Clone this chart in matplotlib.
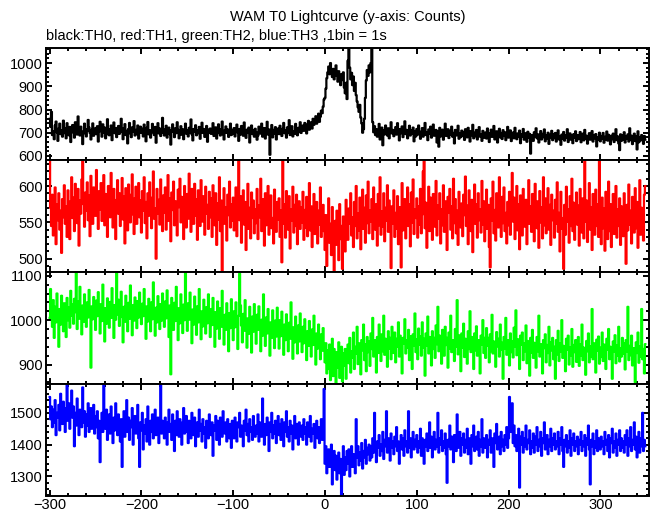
import numpy as np
import matplotlib
matplotlib.use("Agg")
import matplotlib.pyplot as plt
from matplotlib.ticker import MultipleLocator

plt.rcParams['font.family'] = ['Liberation Sans', 'DejaVu Sans']

t_start = -300  # 1 bin = 1 s

th0 = [
760, 725, 790, 690, 705, 672, 731, 748, 702, 665, 718, 739, 694, 710, 683, 752, 721, 698, 676, 741, 712, 689, 725, 660, 706,
733, 701, 679, 745, 718, 692, 770, 714, 688, 726, 705, 651, 697, 739, 716, 684, 708, 755, 722, 699, 671, 713, 740, 687, 703,
719, 694, 728, 662, 705, 747, 711, 683, 736, 700, 722, 676, 693, 758, 716, 689, 702, 731, 668, 710, 744, 698, 720, 681, 707,
729, 695, 714, 760, 703, 672, 719, 737, 690, 708, 654, 716, 742, 697, 681, 723, 706, 750, 688, 712, 694, 731, 675, 709, 726,
699, 717, 684, 735, 708, 663, 721, 746, 693, 711, 679, 704, 738, 701, 690, 725, 657, 713, 741, 697, 718, 686, 709, 764, 700,
688, 714, 730, 679, 705, 722, 694, 649, 711, 736, 703, 681, 719, 698, 745, 712, 676, 707, 728, 691, 715, 672, 702, 739, 696,
710, 684, 721, 702, 757, 693, 667, 716, 705, 732, 689, 711, 698, 725, 674, 708, 743, 699, 716, 682, 705, 729, 661, 713, 700,
718, 695, 707, 741, 686, 709, 723, 675, 698, 736, 704, 688, 715, 748, 693, 671, 710, 727, 699, 714, 682, 703, 739, 690, 712,
697, 720, 684, 708, 735, 701, 665, 716, 692, 729, 710, 687, 744, 705, 678, 713, 699, 722, 658, 706, 731, 694, 711, 683, 717,
702, 670, 688, 726, 711, 696, 739, 683, 708, 720, 675, 701, 747, 692, 714, 605, 706, 733, 680, 712, 697, 724, 671, 709, 718,
694, 730, 705, 686, 717, 742, 698, 711, 679, 723, 700, 754, 690, 713, 728, 684, 707, 695, 738, 712, 689, 721, 703, 745, 699,
716, 731, 708, 742, 722, 697, 736, 751, 713, 729, 745, 718, 760, 734, 748, 771, 739, 756, 782, 747, 769, 795, 784, 812, 843,
850, 890, 935, 960, 985, 952, 1000, 968, 940, 975, 930, 958, 990, 945, 920, 965, 938, 905, 952, 927, 960, 895, 870, 915, 845,
1010, 1065, 980, 930, 958, 905, 942, 880, 915, 862, 835, 810, 790, 820, 765, 740, 700, 715, 760, 850, 925, 970, 945, 990, 960,
1000, 1065, 745, 702, 728, 690, 715, 683, 707, 738, 671, 699, 722, 646, 710, 693, 731, 704, 688, 719, 676, 701, 745, 697, 712,
685, 708, 724, 692, 741, 703, 667, 716, 698, 727, 681, 705, 749, 694, 712, 676, 703, 730, 688, 710, 695, 722, 663, 707, 684,
716, 692, 731, 705, 674, 698, 720, 683, 709, 742, 690, 701, 668, 714, 695, 726, 679, 703, 735, 687, 699, 712, 658, 705, 640,
721, 684, 697, 713, 670, 702, 739, 686, 694, 715, 677, 708, 691, 726, 683, 699, 654, 712, 688, 705, 730, 674, 696, 681, 709,
687, 703, 669, 715, 694, 680, 721, 698, 662, 707, 689, 734, 676, 700, 685, 712, 671, 697, 724, 683, 692, 665, 708, 690, 678,
701, 675, 718, 688, 660, 697, 713, 682, 694, 729, 671, 689, 706, 658, 693, 717, 680, 699, 673, 711, 686, 702, 668, 694, 725,
679, 693, 710, 664, 688, 701, 676, 721, 690, 672, 697, 683, 709, 655, 692, 684, 716, 670, 698, 687, 661, 704, 679, 695, 610,
673, 690, 665, 702, 684, 719, 676, 693, 658, 688, 707, 671, 695, 681, 714, 663, 689, 676, 700, 652, 691, 680, 708, 668, 694,
677, 699, 662, 686, 710, 671, 683, 648, 692, 675, 703, 666, 689, 678, 715, 660, 684, 697, 670, 688, 655, 694, 679, 706, 664,
690, 672, 685, 703, 659, 681, 696, 667, 712, 674, 687, 653, 679, 698, 670, 684, 707, 662, 688, 676, 694, 641, 681, 669, 700,
663, 686, 674, 699, 657, 682, 670, 705, 666, 691, 678, 650, 687, 672, 696, 660, 680, 715, 668, 684, 654, 625, 693, 665, 688,
671, 702, 658, 684, 676, 693, 662, 719, 670, 687, 651, 678, 696, 664, 683, 628, 706, 659, 680, 667, 690, 675, 652, 686, 670,
]

th1 = [
636, 570, 545, 588, 532, 561, 598, 520, 575, 553, 590, 540, 566, 508, 582, 557, 601, 548, 572, 530, 594, 563, 527, 579, 612,
556, 584, 538, 603, 571, 549, 596, 518, 580, 562, 609, 636, 575, 544, 591, 566, 605, 553, 587, 531, 614, 570, 548, 598, 579,
559, 622, 584, 541, 593, 568, 604, 552, 577, 615, 546, 589, 563, 530, 600, 574, 557, 618, 585, 543, 596, 569, 527, 581, 608,
562, 590, 545, 573, 611, 554, 586, 521, 597, 567, 539, 602, 576, 550, 588, 616, 561, 534, 583, 599, 548, 571, 604, 557, 580,
536, 593, 566, 612, 549, 578, 528, 590, 559, 605, 573, 542, 584, 620, 555, 569, 500, 596, 562, 581, 547, 609, 575, 538, 587,
563, 598, 540, 574, 615, 552, 583, 524, 591, 567, 606, 546, 579, 558, 532, 595, 571, 610, 550, 585, 561, 527, 600, 576, 543,
589, 555, 617, 568, 537, 596, 572, 548, 603, 559, 582, 526, 594, 565, 545, 608, 578, 551, 586, 533, 599, 562, 574, 541, 592,
557, 583, 530, 601, 569, 546, 590, 519, 576, 554, 612, 538, 580, 483, 563, 597, 548, 571, 525, 588, 560, 606, 543, 575, 552,
584, 539, 567, 598, 531, 574, 636, 553, 586, 522, 565, 594, 547, 578, 512, 559, 603, 541, 570, 528, 591, 556, 580, 535, 568,
549, 596, 527, 573, 557, 610, 538, 582, 561, 518, 590, 546, 571, 600, 533, 564, 587, 542, 556, 521, 595, 569, 537, 578, 554,
583, 530, 566, 495, 636, 548, 575, 529, 593, 557, 540, 586, 514, 568, 552, 599, 536, 574, 545, 588, 520, 563, 579, 541, 571,
550, 592, 526, 567, 543, 585, 531, 558, 604, 539, 572, 516, 561, 589, 534, 553, 578, 521, 566, 547, 598, 530, 556, 574, 538,
512, 560, 490, 537, 583, 522, 548, 505, 571, 530, 483, 552, 519, 566, 540, 498, 575, 527, 545, 486, 558, 534, 510, 581, 543,
526, 569, 548, 590, 532, 557, 516, 578, 545, 600, 528, 562, 539, 584, 513, 553, 595, 541, 570, 522, 587, 549, 606, 535, 566,
551, 582, 527, 598, 560, 540, 575, 518, 589, 546, 612, 533, 565, 544, 590, 524, 570, 552, 601, 537, 580, 558, 487, 572, 548,
594, 530, 563, 541, 586, 520, 571, 553, 488, 604, 539, 567, 582, 528, 559, 598, 545, 575, 517, 591, 550, 609, 534, 568, 556,
583, 529, 572, 547, 596, 535, 561, 620, 636, 542, 577, 515, 565, 599, 538, 584, 552, 526, 589, 561, 544, 607, 532, 573, 555,
590, 521, 568, 546, 601, 537, 579, 554, 512, 585, 563, 596, 540, 572, 528, 610, 549, 582, 535, 566, 519, 592, 557, 543, 576,
531, 588, 560, 613, 545, 573, 520, 594, 556, 538, 581, 509, 567, 602, 548, 575, 529, 590, 553, 568, 536, 607, 547, 579, 524,
562, 595, 541, 574, 516, 488, 583, 552, 606, 535, 567, 525, 590, 558, 543, 612, 570, 530, 585, 549, 598, 538, 563, 521, 578,
546, 592, 533, 569, 618, 551, 584, 527, 561, 600, 539, 575, 513, 587, 555, 532, 596, 566, 544, 581, 520, 563, 608, 548, 572,
537, 589, 556, 524, 603, 565, 542, 579, 515, 593, 550, 571, 528, 612, 546, 583, 535, 560, 597, 540, 574, 519, 588, 553, 566,
529, 581, 548, 605, 537, 563, 510, 592, 556, 541, 486, 574, 533, 599, 551, 568, 522, 586, 545, 610, 538, 577, 526, 562, 591,
547, 573, 518, 596, 559, 536, 583, 528, 636, 551, 580, 523, 567, 604, 540, 571, 512, 589, 554, 533, 595, 545, 575, 530, 636,
557, 520, 584, 542, 569, 511, 592, 550, 527, 606, 538, 575, 516, 561, 589, 534, 553, 600, 529, 568, 545, 583, 519, 572, 548,
531, 590, 556, 493, 574, 539, 602, 547, 566, 521, 585, 553, 536, 597, 542, 578, 515, 561, 608, 533, 570, 549, 525, 588, 600,
]

th2 = [
1005, 1070, 1020, 985, 1045, 960, 1030, 995, 1060, 1012, 940, 1025, 990, 1055, 1008, 975, 1038, 1015, 962, 1050, 1000, 1028, 983, 1066, 1010,
1035, 992, 1048, 1018, 1109, 980, 1042, 1003, 1075, 1022, 968, 1033, 996, 1058, 1014, 985, 1040, 1006, 1068, 1024, 893, 1031, 1002, 1052, 1017,
978, 1044, 1009, 1063, 1021, 970, 1036, 998, 1080, 1015, 952, 1027, 992, 1049, 1011, 983, 1041, 1005, 1072, 1019, 960, 1034, 1001, 1109, 1013,
1046, 987, 1023, 1064, 1007, 950, 1030, 996, 1055, 1016, 975, 1039, 1003, 1078, 1020, 966, 1034, 999, 1051, 1011, 982, 1043, 1006, 1062, 1018,
991, 1037, 1009, 1070, 1021, 958, 1031, 997, 1048, 1014, 975, 1040, 1002, 1085, 1017, 965, 1028, 995, 1054, 1008, 980, 1036, 999, 1060, 1013,
985, 1042, 1004, 1067, 1019, 962, 1033, 878, 1050, 1010, 978, 1039, 998, 1075, 1016, 955, 1027, 993, 1058, 1007, 971, 1035, 1000, 1109, 1012,
976, 1038, 1001, 1062, 1014, 948, 1024, 990, 1053, 1005, 967, 1031, 995, 1070, 1011, 957, 1020, 986, 1046, 1002, 970, 1029, 993, 1058, 1006,
962, 1025, 989, 1050, 1003, 940, 1018, 981, 1042, 997, 958, 1027, 985, 1066, 1000, 945, 1012, 978, 1038, 994, 930, 1016, 982, 1047, 996,
955, 1020, 984, 1040, 991, 935, 1010, 1105, 1033, 988, 950, 1014, 976, 1045, 992, 938, 1004, 969, 1030, 985, 927, 1008, 974, 1036, 983,
947, 1012, 978, 1031, 986, 930, 1001, 965, 1058, 980, 942, 1006, 970, 1025, 977, 920, 995, 960, 1022, 974, 937, 999, 963, 1028, 971,
936, 1000, 964, 1019, 972, 922, 990, 955, 1013, 968, 930, 994, 958, 1040, 966, 913, 984, 950, 1008, 962, 925, 988, 952, 1015, 960,
928, 985, 948, 1002, 958, 910, 975, 942, 998, 953, 918, 979, 944, 1010, 950, 900, 970, 936, 990, 947, 912, 968, 931, 982, 940,
905, 948, 880, 932, 890, 945, 865, 920, 958, 874, 935, 900, 857, 928, 893, 950, 870, 915, 940, 862, 925, 898, 935, 868, 912,
945, 903, 960, 882, 930, 915, 972, 890, 940, 925, 985, 901, 948, 920, 878, 955, 932, 990, 910, 946, 885, 962, 928, 952, 897,
970, 935, 1005, 918, 955, 940, 882, 962, 926, 990, 945, 908, 968, 930, 1010, 922, 958, 941, 895, 975, 936, 960, 912, 985, 944,
926, 972, 905, 958, 940, 995, 918, 965, 933, 880, 960, 947, 1002, 925, 955, 938, 978, 910, 964, 930, 890, 968, 943, 1015, 928,
957, 912, 981, 945, 964, 920, 995, 938, 958, 875, 970, 942, 1008, 925, 962, 948, 898, 975, 935, 960, 915, 988, 946, 1030, 930,
965, 940, 902, 978, 952, 920, 985, 944, 960, 893, 972, 936, 1010, 928, 955, 946, 908, 980, 940, 1045, 923, 966, 950, 885, 970,
938, 992, 917, 958, 944, 902, 975, 935, 1020, 928, 962, 948, 890, 970, 932, 986, 920, 955, 940, 880, 965, 945, 1000, 926, 960,
915, 982, 942, 960, 905, 968, 930, 1012, 925, 952, 938, 895, 973, 941, 958, 918, 990, 933, 949, 868, 962, 936, 1005, 922, 955,
944, 898, 970, 928, 952, 916, 983, 940, 1022, 921, 957, 935, 890, 965, 945, 972, 910, 948, 930, 988, 903, 953, 939, 875, 960,
927, 978, 915, 949, 935, 893, 962, 930, 1010, 918, 946, 922, 880, 955, 937, 968, 905, 944, 926, 985, 898, 950, 932, 960, 912,
940, 868, 955, 923, 976, 908, 947, 929, 1000, 915, 942, 918, 885, 958, 933, 965, 900, 939, 921, 980, 895, 944, 928, 955, 906,
934, 962, 897, 945, 920, 990, 910, 938, 927, 877, 953, 930, 970, 905, 941, 918, 1025, 912, 948, 925, 882, 956, 931, 963, 902,
938, 917, 972, 908, 945, 926, 890, 958, 933, 980, 912, 940, 922, 868, 952, 929, 966, 903, 943, 920, 985, 907, 937, 918, 960,
924, 948, 889, 955, 930, 1030, 910, 942, 921, 965, 898, 937, 915, 860, 950, 926, 972, 904, 941, 918, 1025, 912, 935, 880, 946,
]

th3 = [
1550, 1480, 1520, 1455, 1510, 1470, 1540, 1430, 1500, 1485, 1525, 1445, 1560, 1490, 1465, 1535, 1500, 1440, 1515, 1590, 1475, 1530, 1450, 1505, 1570,
1485, 1520, 1395, 1500, 1460, 1545, 1475, 1430, 1510, 1490, 1455, 1580, 1470, 1505, 1425, 1495, 1460, 1530, 1440, 1485, 1515, 1450, 1470, 1525, 1435,
1490, 1455, 1505, 1420, 1475, 1345, 1465, 1500, 1440, 1590, 1480, 1450, 1510, 1415, 1470, 1495, 1435, 1520, 1460, 1405, 1485, 1445, 1530, 1465, 1430,
1495, 1450, 1410, 1480, 1330, 1460, 1505, 1425, 1470, 1540, 1440, 1485, 1415, 1475, 1455, 1515, 1400, 1465, 1490, 1435, 1460, 1525, 1420, 1330, 1470,
1445, 1500, 1385, 1460, 1435, 1480, 1410, 1520, 1455, 1400, 1475, 1440, 1495, 1420, 1465, 1510, 1430, 1450, 1485, 1405, 1460, 1590, 1435, 1475, 1450,
1420, 1485, 1455, 1400, 1470, 1510, 1440, 1465, 1415, 1495, 1450, 1380, 1475, 1430, 1505, 1455, 1425, 1480, 1445, 1400, 1470, 1515, 1435, 1460, 1490,
1440, 1405, 1475, 1450, 1420, 1500, 1460, 1430, 1485, 1395, 1455, 1470, 1425, 1510, 1445, 1465, 1410, 1480, 1435, 1455, 1390, 1475, 1450, 1420, 1495,
1455, 1430, 1470, 1365, 1460, 1445, 1490, 1415, 1475, 1440, 1400, 1485, 1450, 1425, 1505, 1460, 1435, 1470, 1410, 1480, 1445, 1420, 1465, 1390, 1475,
1450, 1420, 1485, 1440, 1410, 1470, 1455, 1500, 1425, 1460, 1435, 1395, 1475, 1445, 1510, 1430, 1465, 1410, 1480, 1440, 1455, 1415, 1490, 1450, 1425,
1460, 1435, 1495, 1410, 1470, 1450, 1425, 1545, 1445, 1400, 1465, 1430, 1485, 1455, 1380, 1470, 1440, 1500, 1420, 1460, 1435, 1475, 1405, 1455, 1490,
1430, 1465, 1415, 1480, 1445, 1395, 1470, 1440, 1505, 1425, 1455, 1410, 1475, 1435, 1460, 1385, 1450, 1490, 1420, 1465, 1440, 1400, 1470, 1445, 1425,
1460, 1415, 1480, 1435, 1455, 1400, 1470, 1440, 1425, 1490, 1410, 1450, 1435, 1465, 1390, 1445, 1475, 1420, 1455, 1405, 1440, 1480, 1415, 1450, 1575,
1340, 1395, 1310, 1370, 1385, 1330, 1360, 1400, 1275, 1350, 1380, 1320, 1365, 1290, 1345, 1375, 1310, 1355, 1240, 1335, 1395, 1305, 1360, 1320, 1380,
1340, 1385, 1300, 1355, 1395, 1330, 1370, 1345, 1310, 1480, 1360, 1395, 1335, 1375, 1350, 1405, 1325, 1380, 1360, 1415, 1340, 1390, 1370, 1400, 1350,
1395, 1360, 1420, 1375, 1500, 1385, 1345, 1410, 1390, 1430, 1365, 1400, 1380, 1440, 1355, 1415, 1395, 1505, 1375, 1420, 1400, 1350, 1435, 1390, 1410,
1370, 1425, 1395, 1455, 1380, 1410, 1340, 1400, 1430, 1385, 1420, 1365, 1445, 1395, 1410, 1375, 1505, 1390, 1420, 1360, 1405, 1440, 1385, 1415, 1395,
1430, 1375, 1410, 1390, 1450, 1365, 1420, 1400, 1340, 1415, 1395, 1435, 1380, 1410, 1470, 1390, 1425, 1360, 1405, 1440, 1385, 1415, 1395, 1500, 1375,
1420, 1400, 1445, 1380, 1410, 1390, 1435, 1370, 1280, 1415, 1395, 1460, 1385, 1425, 1400, 1345, 1430, 1405, 1380, 1495, 1410, 1390, 1440, 1365, 1420,
1400, 1435, 1375, 1415, 1390, 1450, 1370, 1420, 1405, 1340, 1430, 1395, 1460, 1380, 1410, 1425, 1385, 1440, 1365, 1415, 1395, 1480, 1375, 1420, 1400,
1390, 1430, 1360, 1415, 1400, 1445, 1375, 1420, 1395, 1330, 1435, 1405, 1465, 1385, 1410, 1425, 1370, 1440, 1395, 1415, 1380, 1430, 1400, 1455, 1390,
1420, 1550, 1480, 1440, 1530, 1405, 1460, 1395, 1430, 1380, 1415, 1450, 1265, 1425, 1400, 1440, 1375, 1420, 1395, 1460, 1385, 1415, 1405, 1445, 1370,
1410, 1390, 1435, 1375, 1425, 1400, 1455, 1380, 1415, 1395, 1440, 1365, 1420, 1405, 1470, 1385, 1410, 1430, 1370, 1415, 1395, 1450, 1380, 1420, 1400,
1435, 1385, 1410, 1395, 1440, 1370, 1420, 1400, 1455, 1380, 1330, 1415, 1395, 1430, 1375, 1410, 1390, 1445, 1365, 1420, 1400, 1435, 1380, 1410, 1395,
1425, 1370, 1415, 1400, 1440, 1380, 1410, 1395, 1430, 1365, 1420, 1400, 1460, 1385, 1275, 1415, 1395, 1435, 1370, 1410, 1390, 1445, 1380, 1420, 1400,
1385, 1425, 1395, 1410, 1370, 1440, 1400, 1415, 1380, 1430, 1360, 1420, 1405, 1450, 1375, 1410, 1390, 1435, 1365, 1415, 1400, 1445, 1380, 1420, 1390,
1410, 1375, 1430, 1400, 1445, 1365, 1420, 1395, 1455, 1380, 1415, 1400, 1470, 1385, 1425, 1360, 1410, 1440, 1375, 1420, 1395, 1500, 1380, 1415, 1395,
]

series = [th0, th1, th2, th3]
colors = ['black', '#ff0000', '#00ff00', '#0000ff']
ylims = [(583, 1065), (482, 636), (857, 1109), (1240, 1592)]
ymajor = [100, 50, 100, 100]
yminor = [20, 10, 20, 20]
xlim = (-304.5, 353)

W, H = 652, 515
fig = plt.figure(figsize=(W / 100, H / 100), dpi=100)
left_px, right_px = 45.5, 649
top_px, bot_px = 48, 495.5
ph = (bot_px - top_px) / 4

axes = []
for i in range(4):
    y0 = top_px + i * ph
    ax = fig.add_axes([left_px / W, 1 - (y0 + ph) / H, (right_px - left_px) / W, ph / H])
    vals = np.array(series[i], dtype=float)
    t = t_start + np.arange(len(vals))
    ax.plot(t, vals, color=colors[i], lw=1.6, drawstyle='steps-mid')
    ax.set_xlim(*xlim)
    ax.set_ylim(*ylims[i])
    ax.xaxis.set_major_locator(MultipleLocator(100))
    ax.xaxis.set_minor_locator(MultipleLocator(20))
    ax.yaxis.set_major_locator(MultipleLocator(ymajor[i]))
    ax.yaxis.set_minor_locator(MultipleLocator(yminor[i]))
    ax.tick_params(which='both', direction='in', top=True, right=True, width=1.4, colors='black')
    ax.tick_params(which='major', length=4.5, labelsize=10.5, pad=2)
    ax.tick_params(which='minor', length=2.2)
    for sp in ax.spines.values():
        sp.set_linewidth(1.4)
        sp.set_zorder(3)
    if i < 3:
        ax.tick_params(labelbottom=False)
    axes.append(ax)

fig.text(348 / W, 1 - 17 / H, 'WAM T0 Lightcurve (y-axis: Counts)', ha='center', va='center', fontsize=10.5)
fig.text(46 / W, 1 - 36 / H, 'black:TH0, red:TH1, green:TH2, blue:TH3 ,1bin = 1s', ha='left', va='center', fontsize=10.5)

fig.savefig('out.png', dpi=100)
